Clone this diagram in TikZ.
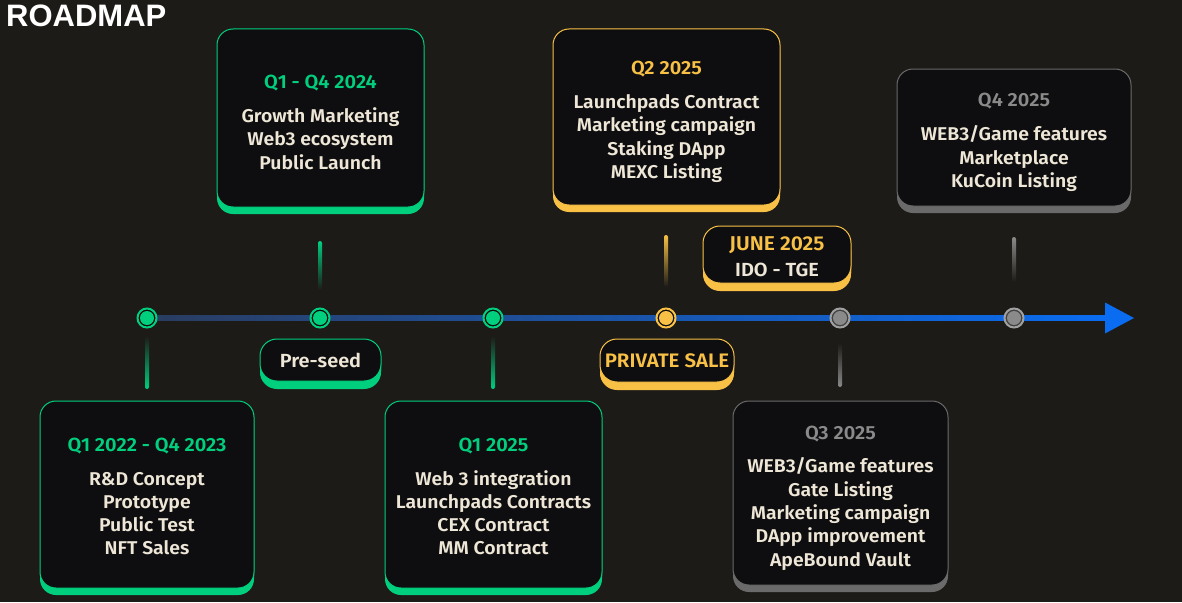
\documentclass[tikz,border=0pt]{standalone}
\usepackage{fontspec}
\setmainfont{Fira Sans}[BoldFont={Fira Sans SemiBold}, BoldFeatures={FakeStretch=1.05}]
\newfontfamily\titlefont{Liberation Sans}
\usetikzlibrary{shadows,calc}
\definecolor{bg}{HTML}{1D1B18}
\definecolor{cardbg}{HTML}{0E0E10}
\definecolor{grn}{HTML}{00CF7E}
\definecolor{yel}{HTML}{F8C146}
\definecolor{gry}{HTML}{6A6A6A}
\definecolor{gryt}{HTML}{8A8A8A}
\definecolor{gryring}{HTML}{A0A0A0}
\definecolor{cream}{HTML}{EEE6D6}
\definecolor{navy}{HTML}{2A3C60}
\definecolor{blu}{HTML}{0A6CF0}
\newcommand\tlstem[4]{%
  \shade[#4, rounded corners=2pt] (#1-2,#2) rectangle (#1+2,#3);}
\newcommand\cardtitle[2]{{\color{#1}\fontsize{19}{23.3}\selectfont #2}}
\begin{document}
\begin{tikzpicture}[x=1pt,y=-1pt,
  card/.style={draw=#1, line width=1pt, fill=cardbg, rounded corners=16pt,
    general shadow={shadow yshift=-7pt, fill=#1, draw=none}, inner sep=0pt},
  cardtext/.style={align=center, text=cream, inner sep=0pt,
    font=\bfseries\fontsize{18.5}{23.3}\selectfont},
  pill/.style={card=#1, rounded corners=17pt,
    general shadow={shadow yshift=-8pt, fill=#1, draw=none}},
  dot/.style={circle, draw=#1, line width=2pt, fill=cardbg, minimum size=19pt, inner sep=0pt,
    path picture={\fill[#1] (path picture bounding box.center) circle (7pt);}},
  gdot/.style={circle, draw=gryring, line width=2pt, fill=black!75, minimum size=19pt, inner sep=0pt,
    path picture={\fill[gryt] (path picture bounding box.center) circle (7pt);}},
  titletext/.style={font=\titlefont\bfseries\fontsize{31}{31}\selectfont, text=white, inner sep=0pt}
]
\useasboundingbox (0,0) rectangle (1182,602);
\fill[bg] (0,0) rectangle (1182,602);

\node[titletext, anchor=base west] (title) at (6,27) {ROADMAP};

% stems
\tlstem{147}{336}{389}{top color=bg, bottom color=grn}
\tlstem{320}{241}{290}{top color=grn, bottom color=bg}
\tlstem{493}{336}{389}{top color=bg, bottom color=grn}
\tlstem{666}{235}{287}{top color=yel, bottom color=bg}
\tlstem{840}{343}{387}{top color=bg, bottom color=gryt}
\tlstem{1014}{237}{282}{top color=gryt, bottom color=bg}

% timeline
\coordinate (start) at (147,318);
\coordinate (tip) at (1134,318);
\shade[left color=navy, right color=blu] ($(start)+(0,-2.5)$) rectangle ($(tip)+(-27,2.5)$);
\fill[blu] (tip) -- ++(-29,-15.5) -- ++(0,31) -- cycle;

% dots
\node[dot=grn] (d1) at (147,318) {};
\node[dot=grn] (d2) at (320,318) {};
\node[dot=grn] (d3) at (493,318) {};
\node[dot=yel] (d4) at (666,318) {};
\node[gdot] (d5) at (840,318) {};
\node[gdot] (d6) at (1014,318) {};

% cards
\node[card=grn, minimum width=214pt, minimum height=187pt] (c1) at (147,494.5) {};
\node[cardtext] (t1) at ($(c1.center)+(0,2)$)
  {\cardtitle{grn}{Q1 2022 - Q4 2023}\\[10.5pt]R\&D Concept\\Prototype\\Public Test\\NFT Sales};
\node[card=grn, minimum width=207pt, minimum height=178pt] (c2) at (320.5,118) {};
\node[cardtext] (t2) at ($(c2.center)+(0,4.5)$)
  {\cardtitle{grn}{Q1 - Q4 2024}\\[10.5pt]Growth Marketing\\Web3 ecosystem\\Public Launch};
\node[card=grn, minimum width=217pt, minimum height=187pt] (c3) at (493.5,494.5) {};
\node[cardtext] (t3) at ($(c3.center)+(0,2)$)
  {\cardtitle{grn}{Q1 2025}\\[10.5pt]Web 3 integration\\Launchpads Contracts\\CEX Contract\\MM Contract};
\node[card=yel, minimum width=227pt, minimum height=176pt] (c4) at (666.5,117) {};
\node[cardtext] (t4) at ($(c4.center)+(0,5)$)
  {\cardtitle{yel}{Q2 2025}\\[10.5pt]Launchpads Contract\\Marketing campaign\\Staking DApp\\MEXC Listing};
\node[card=gry, minimum width=215pt, minimum height=184pt] (c5) at (840.5,493) {};
\node[cardtext] (t5) at ($(c5.center)+(0,5)$)
  {\cardtitle{gryt}{Q3 2025}\\[10.5pt]WEB3/Game features\\Gate Listing\\Marketing campaign\\DApp improvement\\ApeBound Vault};
\node[card=gry, minimum width=234pt, minimum height=137pt] (c6) at (1014,137.5) {};
\node[cardtext] (t6) at ($(c6.center)+(0,5)$)
  {\cardtitle{gryt}{Q4 2025}\\[10.5pt]WEB3/Game features\\Marketplace\\KuCoin Listing};

% pills
\node[pill=grn, minimum width=121pt, minimum height=42pt] (p1) at (320.5,360) {};
\node[cardtext, font=\bfseries\fontsize{19}{23}\selectfont] (pt1) at ($(p1.center)+(0,0.5)$) {Pre-seed};
\node[pill=yel, minimum width=134pt, minimum height=43pt] (p2) at (667,360.5) {};
\node[cardtext, text=yel, font=\bfseries\fontsize{19.5}{23}\selectfont] (pt2) at ($(p2.center)+(0,0.5)$) {PRIVATE SALE};
\node[pill=yel, minimum width=148pt, minimum height=57pt] (p3) at (777,254.5) {};
\node[cardtext, font=\bfseries\fontsize{19}{26}\selectfont] (pt3) at ($(p3.center)+(0,2)$)
  {{\color{yel}\fontsize{20}{26}\selectfont JUNE 2025}\\IDO - TGE};
\end{tikzpicture}
\end{document}
